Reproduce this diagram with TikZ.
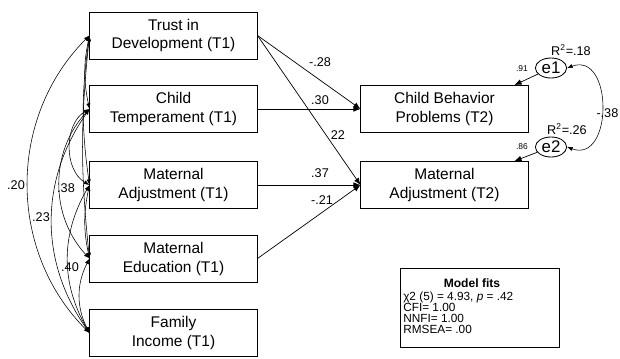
\documentclass[tikz,border=0pt]{standalone}
\usepackage{fontspec}
\setmainfont{Liberation Sans}
\usetikzlibrary{arrows.meta, positioning, shapes.geometric}

\begin{document}
\begin{tikzpicture}[x=0.025cm, y=-0.025cm,
    var/.style={draw, line width=0.7pt, minimum width=4.175cm, minimum height=1.175cm, align=center, font=\fontsize{11}{13.5}\selectfont},
    err/.style={ellipse, draw, line width=0.6pt, minimum width=0.78cm, minimum height=0.5cm, inner sep=0pt, font=\fontsize{12}{13}\selectfont},
    reg/.style={-{Latex[length=5pt,width=4pt]}, line width=0.5pt},
    corr/.style={{Latex[length=4pt,width=3pt]}-{Latex[length=4pt,width=3pt]}, line width=0.4pt},
    coef/.style={font=\fontsize{9}{10}\selectfont, inner sep=1pt},
    tiny/.style={font=\fontsize{6}{7}\selectfont, inner sep=1pt}
]
    \useasboundingbox (0,0) rectangle (620,358);

    % 左侧变量 (T1)
    \node[var] (trust) at (173.5,35.5) {Trust in\\Development (T1)};
    \node[var] (temper) at (173.5,109) {Child\\Temperament (T1)};
    \node[var] (madj1) at (173.5,185) {Maternal\\Adjustment (T1)};
    \node[var] (medu) at (173.5,258.5) {Maternal\\Education (T1)};
    \node[var] (income) at (173.5,333) {Family\\Income (T1)};

    % 结果变量 (T2)
    \node[var] (cbp) at (444.5,109) {Child Behavior\\Problems (T2)};
    \node[var] (madj2) at (444.5,185) {Maternal\\Adjustment (T2)};

    % 路径
    \draw[reg] (trust.east) -- (cbp.west);
    \draw[reg] (trust.east) -- (madj2.west);
    \draw[reg] (temper.east) -- (cbp.west);
    \draw[reg] (madj1.east) -- (madj2.west);
    \draw[reg] (medu.east) -- (madj2.west);
    \node[coef] (p1) at (320,62) {-.28};
    \node[coef] (p2) at (320,100) {.30};
    \node[coef] (p3) at (338,135) {22};
    \node[coef] (p4) at (320,173) {.37};
    \node[coef] (p5) at (322,200) {-.21};

    % 相关
    \foreach \a/\b/\ang in {trust/temper/12, trust/madj1/8, trust/medu/6, trust/income/45,
        temper/madj1/60, temper/medu/43, temper/income/35,
        madj1/medu/12, madj1/income/30, medu/income/27}
        \draw[corr] (\a.west) to[bend right=\ang] (\b.west);
    \node[coef] (r1) at (16,185) {.20};
    \node[coef] (r2) at (41,217) {.23};
    \node[coef] (r3) at (66,188) {.38};
    \node[coef] (r4) at (70,267) {.40};

    % 残差
    \node[err] (e1) at (551,68) {e1};
    \node[err] (e2) at (551,147) {e2};
    \node[coef, above=0pt of e1, xshift=0.5cm] (rsq1) {R\textsuperscript{2}=.18};
    \node[coef, above=0pt of e2, xshift=0.4cm] (rsq2) {R\textsuperscript{2}=.26};
    \draw[reg] (e1) -- ([xshift=-0.35cm]cbp.north east);
    \draw[reg] (e2) -- ([xshift=-0.35cm]madj2.north east);
    \node[tiny] (l1) at (522,69) {.91};
    \node[tiny] (l2) at (522,147) {.86};
    \draw[corr] (e1.east) to[out=20, in=-20, looseness=1.6] (e2.east);
    \node[coef, anchor=east] (c12) at (620,113) {-.38};

    % 拟合指标
    \node[draw, line width=0.7pt, minimum width=3.95cm, minimum height=1.975cm] (fits) at (480,307.5) {};
    \node[font=\fontsize{8.6}{9}\selectfont\bfseries, inner sep=0pt] (fitshead) at (472,283) {Model fits};
    \node[font=\fontsize{8.4}{7.8}\selectfont, align=left, anchor=north west, inner sep=0pt] (fitsbody) at (403,292)
        {χ2 (5) = 4.93, \textit{p} = .42\\CFI= 1.00\\NNFI= 1.00\\RMSEA= .00};
\end{tikzpicture}
\end{document}
